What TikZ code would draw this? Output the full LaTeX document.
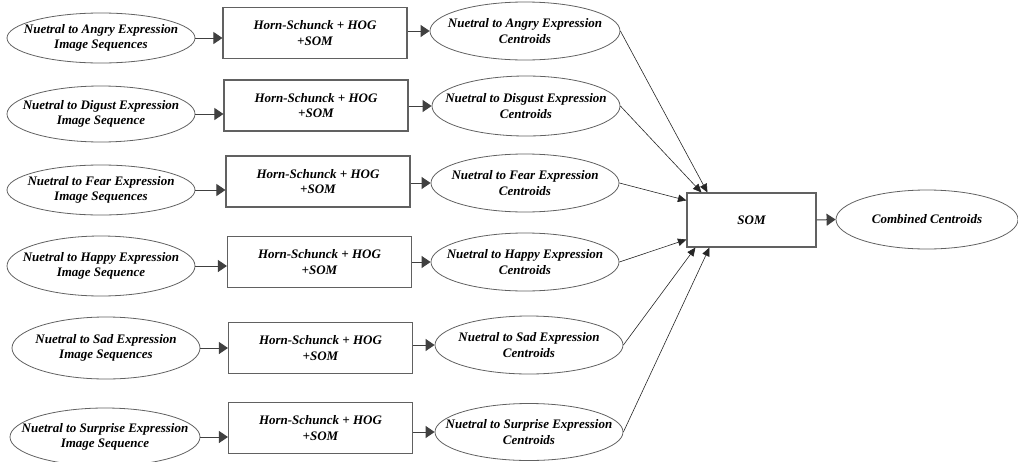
\documentclass[tikz,border=0pt]{standalone}
\usepackage{fontspec}
\setmainfont{Liberation Serif}
\usetikzlibrary{shapes.geometric,arrows.meta}
\newcommand\lblfont{\fontsize{13}{15.5}\selectfont\bfseries\itshape}
\tikzset{
  oval/.style={draw=black!62, line width=0.8pt, ellipse, inner sep=0pt},
  proc/.style={draw=black!62, line width=1.1pt, rectangle, inner sep=0pt,
               minimum width=184pt, minimum height=51pt},
  lbl/.style={align=center, font=\lblfont, inner sep=0pt},
  feed/.style={-{Triangle[length=9pt,width=12pt]}, draw=black!75, line width=1pt},
  merge/.style={-{Triangle[length=8.5pt,width=7.5pt]}, draw=black!85, line width=0.6pt},
}
\begin{document}
\begin{tikzpicture}[x=1pt,y=-1pt]
\useasboundingbox (0,0) rectangle (1018,461);

% input sequences (left column)
\node[oval, minimum width=188pt, minimum height=50pt] (L1) at (101,38) {};
\node[oval, minimum width=188pt, minimum height=56pt] (L2) at (101,114) {};
\node[oval, minimum width=188pt, minimum height=50pt] (L3) at (101,190) {};
\node[oval, minimum width=188pt, minimum height=60pt] (L4) at (101,266) {};
\node[oval, minimum width=188pt, minimum height=62pt] (L5) at (106,348) {};
\node[oval, minimum width=190pt, minimum height=58pt] (L6) at (105,437) {};
\node[lbl] (L1t) at (L1) {Nuetral to Angry Expression\\Image Sequences};
\node[lbl] (L2t) at (L2) {Nuetral to Digust Expression\\Image Sequence};
\node[lbl] (L3t) at (L3) {Nuetral to Fear Expression\\Image Sequences};
\node[lbl] (L4t) at (L4) {Nuetral to Happy Expression\\Image Sequence};
\node[lbl] (L5t) at (L5) {Nuetral to Sad Expression\\Image Sequences};
\node[lbl] (L6t) at (L6) {Nuetral to Surprise Expression\\Image Sequence};

% processing boxes
\node[proc] (B1) at (315,33) {};
\node[proc] (B2) at (316,105.5) {};
\node[proc] (B3) at (318,181.5) {};
\node[proc] (B4) at (319.5,262) {};
\node[proc] (B5) at (320.5,348) {};
\node[proc] (B6) at (320.5,428) {};
\foreach \k in {1,...,6}
  \node[lbl] (B\k t) at (B\k) {Horn-Schunck + HOG\\+SOM};

% per-expression centroids
\node[oval, minimum width=190pt, minimum height=58pt] (E1) at (525,31) {};
\node[oval, minimum width=188pt, minimum height=60pt] (E2) at (526,106) {};
\node[oval, minimum width=188pt, minimum height=58pt] (E3) at (525,183) {};
\node[oval, minimum width=188pt, minimum height=58pt] (E4) at (525,262) {};
\node[oval, minimum width=188pt, minimum height=58pt] (E5) at (529,345) {};
\node[oval, minimum width=188pt, minimum height=57pt] (E6) at (529,432) {};
\node[lbl] (E1t) at (E1) {Nuetral to Angry Expression\\Centroids};
\node[lbl] (E2t) at (E2) {Nuetral to Disgust Expression\\Centroids};
\node[lbl] (E3t) at (E3) {Nuetral to Fear Expression\\Centroids};
\node[lbl] (E4t) at (E4) {Nuetral to Happy Expression\\Centroids};
\node[lbl] (E5t) at (E5) {Nuetral to Sad Expression\\Centroids};
\node[lbl] (E6t) at (E6) {Nuetral to Surprise Expression\\Centroids};

% final SOM and output
\node[proc, minimum width=129pt, minimum height=54pt] (S) at (751.5,220) {};
\node[lbl] (St) at (S) {SOM};
\node[oval, minimum width=182pt, minimum height=59pt] (C) at (927,219.5) {};
\node[lbl] (Ct) at (C) {Combined Centroids};

% entry points on the SOM box
\coordinate (s1) at ([xshift=21pt]S.north west);
\coordinate (s2) at ([xshift=15pt]S.north west);
\coordinate (s3) at ([yshift=-8pt]S.north west);
\coordinate (s4) at ([yshift=8pt]S.south west);
\coordinate (s5) at ([xshift=9pt]S.south west);
\coordinate (s6) at ([xshift=23pt]S.south west);

% connectors
\foreach \k in {1,...,6}{
  \draw[feed] (L\k.east) -- (L\k.east -| B\k.west);
  \draw[feed] (B\k.east |- E\k.west) -- (E\k.west);
  \draw[merge] (E\k.east) -- (s\k);
}
\draw[feed] (S.east) -- (C.west);
\end{tikzpicture}
\end{document}
